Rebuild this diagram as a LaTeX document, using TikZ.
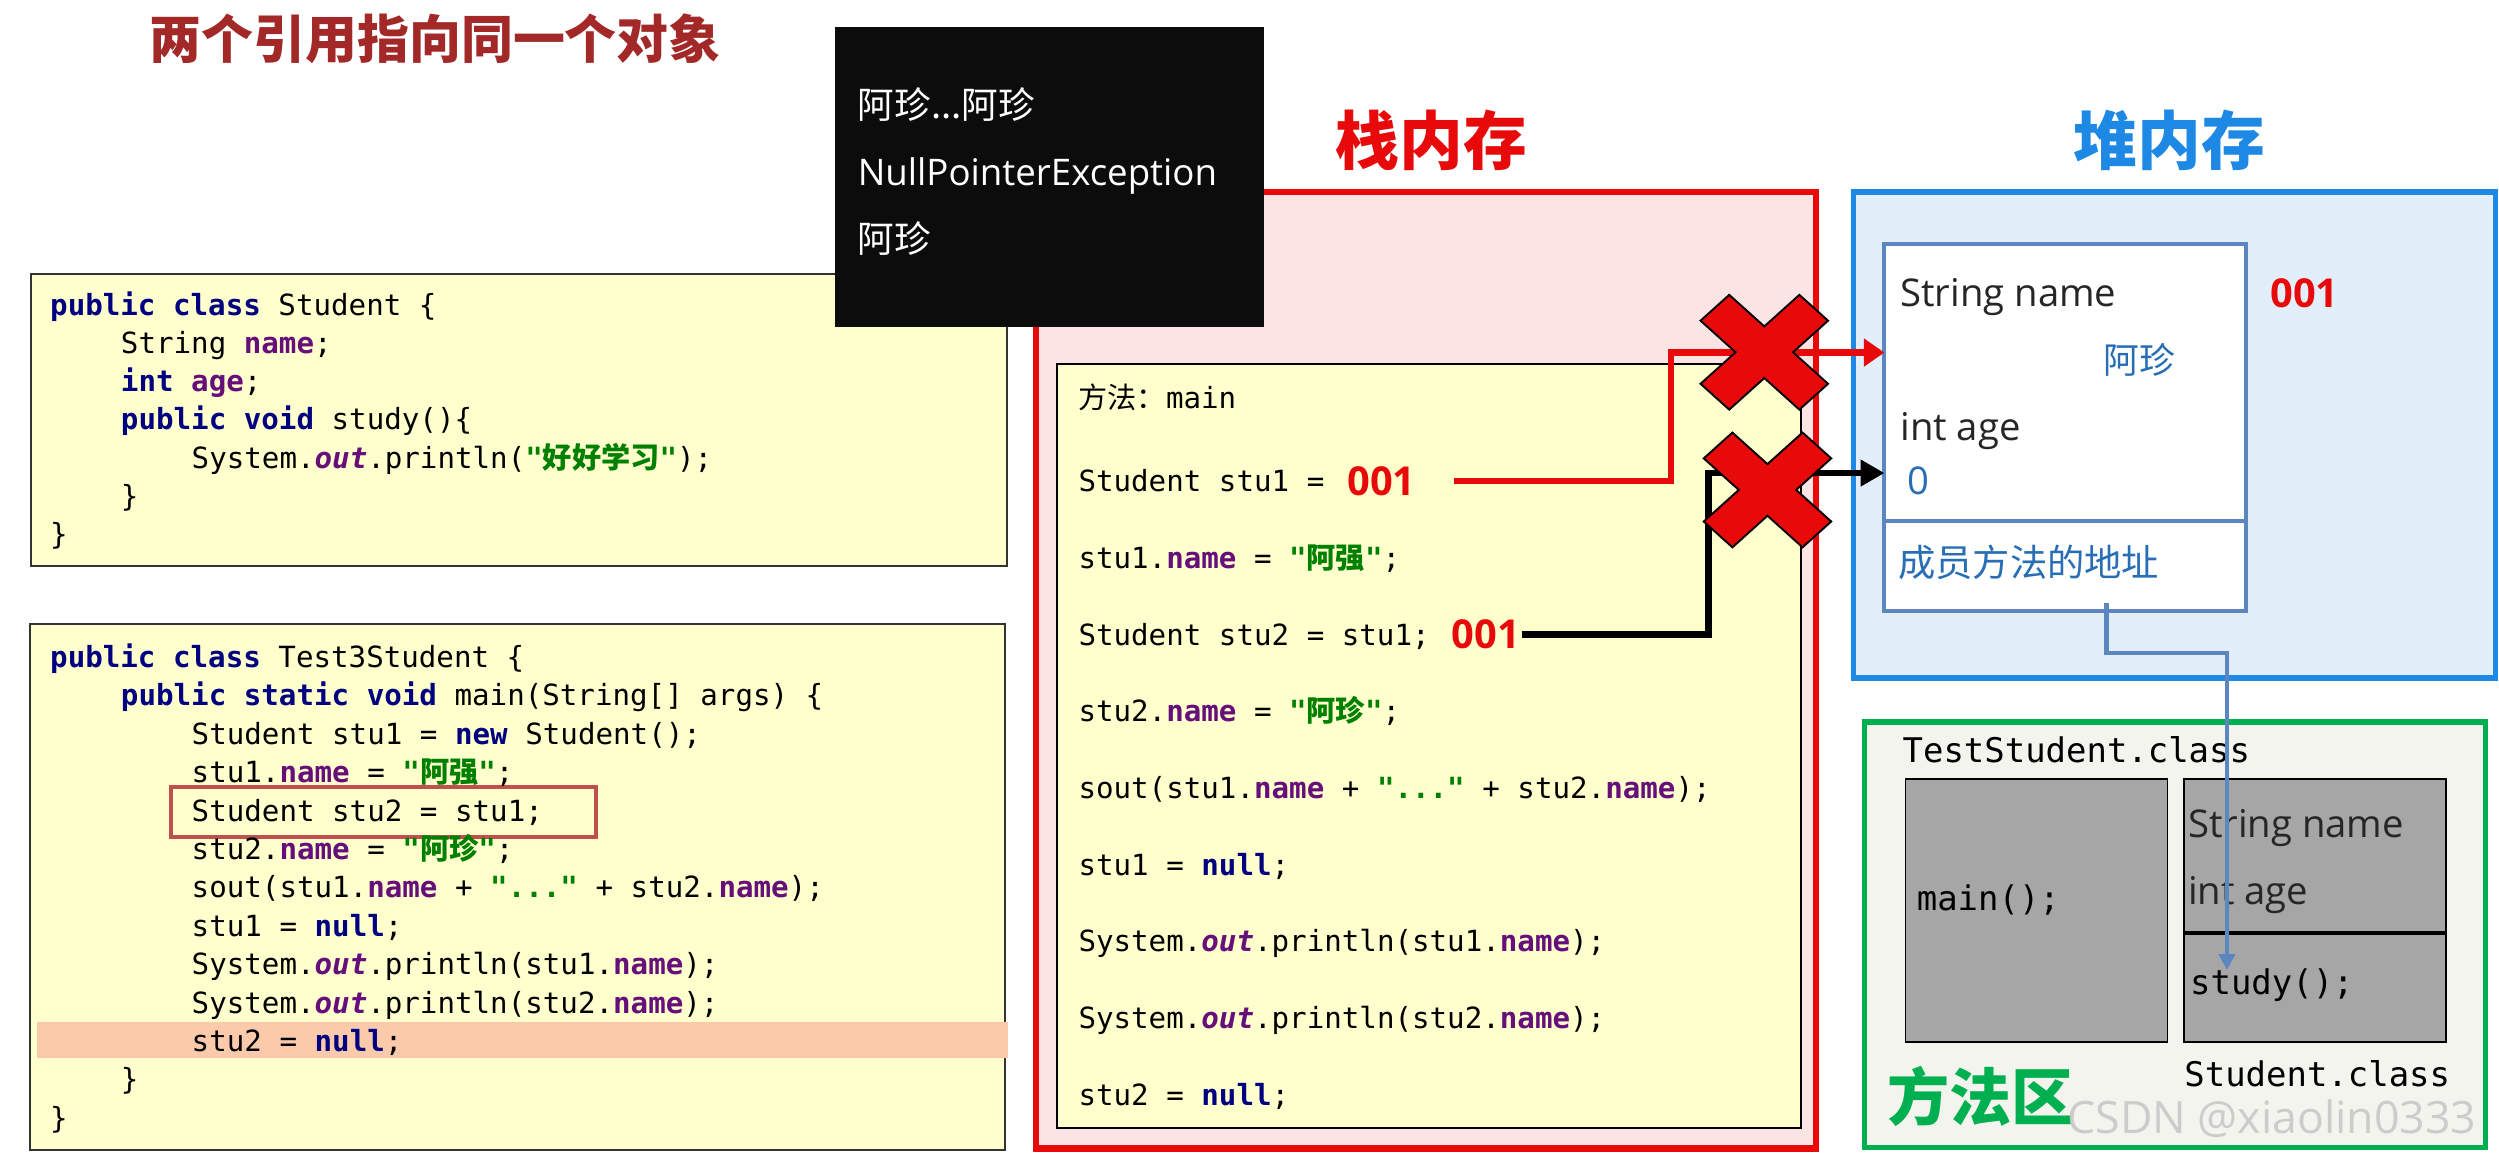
\documentclass[tikz,border=0pt]{standalone}
\usepackage{fontspec}
\setmainfont{Open Sans}
\setmonofont{DejaVu Sans Mono}
\newfontfamily\cjk{Noto Sans CJK SC}
\usepackage{xcolor}
\usepackage{tikz}
\usetikzlibrary{arrows.meta}
\usetikzlibrary{positioning}

\definecolor{titlered}{RGB}{163,40,40}
\definecolor{stackred}{RGB}{232,10,10}
\definecolor{stackfill}{RGB}{253,228,228}
\definecolor{codefill}{RGB}{255,255,206}
\definecolor{heapblue}{RGB}{30,136,229}
\definecolor{heapfill}{RGB}{226,239,251}
\definecolor{objblue}{RGB}{91,134,192}
\definecolor{valblue}{RGB}{40,110,180}
\definecolor{areagreen}{RGB}{0,176,80}
\definecolor{areafill}{RGB}{243,244,238}
\definecolor{clsgray}{RGB}{166,166,166}
\definecolor{consoleblack}{RGB}{12,12,12}
\definecolor{kwnavy}{RGB}{0,0,128}
\definecolor{fldpurple}{RGB}{102,14,122}
\definecolor{strgreen}{RGB}{0,128,0}
\definecolor{hlpeach}{RGB}{250,202,170}
\definecolor{hlframe}{RGB}{192,80,77}

\newcommand{\jkw}[1]{{\color{kwnavy}\bfseries #1}}
\newcommand{\jfld}[1]{{\color{fldpurple}\bfseries #1}}
\newcommand{\jstr}[1]{{\color{strgreen}\bfseries #1}}
\newcommand{\jout}{{\color{fldpurple}\bfseries\itshape out}}

\tikzset{
  panel/.style={anchor=north west, inner sep=0pt, outer sep=0pt},
  codebox/.style={panel, draw=black!80, line width=1.5pt, fill=codefill},
  codeline/.style={font=\ttfamily\fontsize{18.3}{22}\selectfont, anchor=west, inner sep=0pt, text height=13.5pt, text depth=0pt},
  cls/.style={font=\ttfamily\fontsize{21.3}{25}\selectfont, anchor=west, inner sep=0pt, text height=15.5pt, text depth=0pt},
  lbl/.style={font=\fontsize{24}{28}\selectfont, anchor=west, inner sep=0pt, text height=17pt, text depth=0pt, text=black!85},
  addr/.style={font=\bfseries\fontsize{25}{30}\selectfont, text=stackred, anchor=west, inner sep=0pt, text height=18pt, text depth=0pt},
  memtitle/.style={font=\cjk\bfseries\fontsize{40}{44}\selectfont, anchor=west, inner sep=0pt, text height=30pt, text depth=0pt},
  consoletext/.style={font=\fontsize{23}{27}\selectfont, text=white, anchor=west, inner sep=0pt, text height=16.5pt, text depth=0pt},
  redwire/.style={draw=stackred, line width=4pt, -{Triangle[length=13pt,width=17pt]}},
  blackwire/.style={draw=black, line width=4.3pt, -{Triangle[length=15pt,width=16pt]}},
  bluewire/.style={draw=objblue, line width=2.8pt, -{Triangle[length=10pt,width=10pt]}},
  crossmark/.pic={
    \draw[fill=stackred, draw=black, line width=1.2pt, xscale=40, yscale=36]
      (-1,.55) -- (-.55,1) -- (0,.45) -- (.55,1) -- (1,.55) -- (.45,0) -- (1,-.55)
      -- (.55,-1) -- (0,-.45) -- (-.55,-1) -- (-1,-.55) -- (-.45,0) -- cycle;
  }
}

\begin{document}
\begin{tikzpicture}[x=1pt,y=-1pt]
  \fill[white] (0,0) rectangle (1568,726.6);
  \useasboundingbox (0,0) rectangle (1568,726.6);

  \node[memtitle, text=titlered, font=\cjk\bfseries\fontsize{32.6}{36}\selectfont, text height=24.8pt] (title) at (93.5,24.4) {两个引用指向同一个对象};

  % source code
  \node[codebox, minimum width=612.7pt, minimum height=183pt] (studentsrc) at (19.3,172) {};
  \foreach \lvl/\txt [count=\i] in {
      0/{\jkw{public class} Student \{},
      1/{String \jfld{name};},
      1/{\jkw{int} \jfld{age};},
      1/{\jkw{public void} study()\{},
      2/{System.\jout.println(\jstr{"{\cjk 好好学习}"});},
      1/{\}},
      0/{\}}}
    \node[codeline] (sa\i) at (31.3+44.4*\lvl,167+24*\i) {\txt};

  \node[codebox, minimum width=611.5pt, minimum height=329.8pt] (testsrc) at (19,391.6) {};
  \node[panel, fill=hlpeach, minimum width=609.5pt, minimum height=22.8pt] (nowbar) at (23,641) {};
  \node[panel, draw=hlframe, line width=2.5pt, minimum width=267pt, minimum height=31pt] (markline) at (107,494) {};
  \foreach \lvl/\txt [count=\i] in {
      0/{\jkw{public class} Test3Student \{},
      1/{\jkw{public static void} main(String[] args) \{},
      2/{Student stu1 = \jkw{new} Student();},
      2/{stu1.\jfld{name} = \jstr{"{\cjk 阿强}"};},
      2/{Student stu2 = stu1;},
      2/{stu2.\jfld{name} = \jstr{"{\cjk 阿珍}"};},
      2/{sout(stu1.\jfld{name} + \jstr{"..."} + stu2.\jfld{name});},
      2/{stu1 = \jkw{null};},
      2/{System.\jout.println(stu1.\jfld{name});},
      2/{System.\jout.println(stu2.\jfld{name});},
      2/{stu2 = \jkw{null};},
      1/{\}},
      0/{\}}}
    \node[codeline] (sb\i) at (31.3+44.4*\lvl,387.9+24.1*\i) {\txt};

  % stack
  \node[memtitle, text=stackred] (stacktitle) at (838,88) {栈内存};
  \node[panel, draw=stackred, line width=4pt, fill=stackfill, minimum width=489.5pt, minimum height=600pt] (stack) at (650,120.6) {};
  \node[panel, draw=black, line width=1.2pt, fill=codefill, minimum width=466.7pt, minimum height=479.4pt] (frame) at (663.3,228.6) {};
  \node[codeline] (method) at (676.5,249.5) {{\cjk 方法：}main};
  \foreach \txt [count=\i] in {
      {Student stu1 =},
      {stu1.\jfld{name} = \jstr{"{\cjk 阿强}"};},
      {Student stu2 = stu1;},
      {stu2.\jfld{name} = \jstr{"{\cjk 阿珍}"};},
      {sout(stu1.\jfld{name} + \jstr{"..."} + stu2.\jfld{name});},
      {stu1 = \jkw{null};},
      {System.\jout.println(stu1.\jfld{name});},
      {System.\jout.println(stu2.\jfld{name});},
      {stu2 = \jkw{null};}}
    \node[codeline] (st\i) at (676.5,253.7+48.1*\i) {\txt};
  \node[addr, right=14pt of st1] (adrone) {001};
  \node[addr, right=13.5pt of st3] (adrtwo) {001};

  % console output
  \node[panel, fill=consoleblack, minimum width=269pt, minimum height=188pt] (console) at (524,17) {};
  \node[consoletext] (outone) at (538,66) {\cjk 阿珍...阿珍};
  \node[consoletext] (outtwo) at (538,108) {NullPointerException};
  \node[consoletext] (outthree) at (538,150) {\cjk 阿珍};

  % heap
  \node[memtitle, text=heapblue] (heaptitle) at (1301,88.5) {堆内存};
  \node[panel, draw=heapblue, line width=3.5pt, fill=heapfill, minimum width=402.7pt, minimum height=304.9pt] (heap) at (1163,120.4) {};
  \node[panel, draw=objblue, line width=2.5pt, fill=white, minimum width=226.6pt, minimum height=230.5pt] (obj) at (1182.4,152.8) {};
  \draw[draw=objblue, line width=2.5pt] (obj.west |- 0,326.9) -- (obj.east |- 0,326.9);
  \node[lbl] (fname) at (1192.2,184) {String name};
  \node[lbl, text=valblue, font=\cjk\fontsize{22.5}{26}\selectfont] (fnameval) at (1319.4,225.9) {阿珍};
  \node[lbl] (fage) at (1192.2,268) {int age};
  \node[lbl, text=valblue] (fageval) at (1196.5,301.6) {0};
  \node[lbl, text=valblue, font=\cjk\fontsize{23.4}{27}\selectfont] (fmeth) at (1190.8,353.2) {成员方法的地址};
  \node[addr] (adrobj) at (1424.3,184) {001};

  % method area
  \node[panel, draw=areagreen, line width=3.5pt, fill=areafill, minimum width=389.7pt, minimum height=267pt] (area) at (1169.8,453) {};
  \node[cls] (testcls) at (1193.6,470.8) {TestStudent.class};
  \node[panel, draw=black, line width=1.2pt, fill=clsgray, minimum width=164.4pt, minimum height=165.3pt] (mainblk) at (1195.6,488.7) {};
  \node[panel, draw=black, line width=1.2pt, fill=clsgray, minimum width=164.5pt, minimum height=165.3pt] (stublk) at (1370.4,488.7) {};
  \draw[line width=2.5pt] (stublk.west |- 0,585.6) -- (stublk.east |- 0,585.6);
  \node[cls] (mainm) at (1202.5,563.4) {main();};
  \node[lbl] (cname) at (1372.7,517.1) {String name};
  \node[lbl] (cage) at (1372.7,559.2) {int age};
  \node[cls] (studym) at (1374,616) {study();};
  \node[cls] (stucls) at (1370.4,674) {Student.class};
  \node[memtitle, text=areagreen, font=\cjk\bfseries\fontsize{39}{44}\selectfont, text height=29.5pt] (areatitle) at (1184,688) {方法区};

  % references
  \coordinate (namein) at ([yshift=-68.4pt]obj.north west);
  \coordinate (agein) at ([yshift=-144pt]obj.north west);
  \coordinate (studyin) at (1397.3,608.6);
  \draw[redwire] ([xshift=24pt]adrone.east) -- ++(136,0) |- (namein);
  \draw[blackwire] ([xshift=1pt]adrtwo.east) -- ++(117,0) |- (agein);
  \draw[bluewire] ([xshift=26pt,yshift=5pt]obj.south) -- ++(0,31.4) -| (studyin);

  \pic at (1107,221) {crossmark};
  \pic at (1109,307.4) {crossmark};

  \node[anchor=west, inner sep=0pt, font=\fontsize{28}{32}\selectfont, text=gray!45, opacity=.85] (wmark) at (1297,702) {CSDN @xiaolin0333};
\end{tikzpicture}
\end{document}
